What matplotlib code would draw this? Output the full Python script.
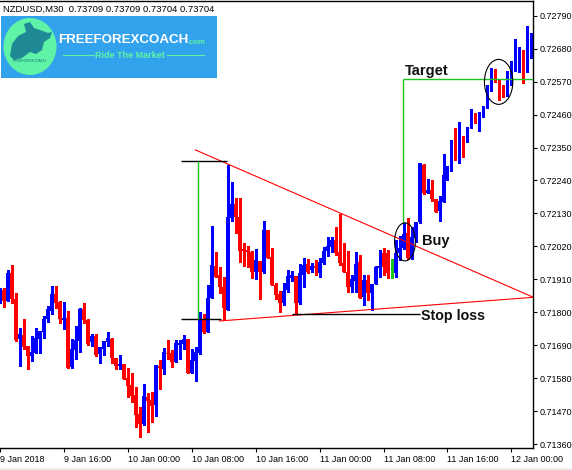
import matplotlib
matplotlib.use("Agg")
import matplotlib.pyplot as plt
from matplotlib.patches import Ellipse, Rectangle, Polygon

W, H = 572, 470

# NZDUSD M30 candles, 9 Jan 08:00 .. 12 Jan 02:30
opens = [0.71835, 0.71875, 0.71838, 0.71930, 0.71846, 0.71711, 0.71724, 0.71687, 0.71655, 0.71665,
         0.71711, 0.71735, 0.71777, 0.71805, 0.71861, 0.71834, 0.71774, 0.71782, 0.71617, 0.71674,
         0.71705, 0.71811, 0.71774, 0.71702, 0.71721, 0.71662, 0.71677, 0.71702, 0.71711, 0.71646,
         0.71620, 0.71627, 0.71579, 0.71557, 0.71524, 0.71459, 0.71427, 0.71517, 0.71507, 0.71490,
         0.71620, 0.71610, 0.71665, 0.71665, 0.71634, 0.71692, 0.71694, 0.71711, 0.71598, 0.71638,
         0.71665, 0.71776, 0.71734, 0.71849, 0.71954, 0.71924, 0.71885, 0.71807, 0.72116, 0.72161,
         0.72117, 0.72010, 0.72008, 0.72002, 0.71935, 0.71971, 0.71933, 0.72075, 0.71985, 0.71891,
         0.71861, 0.71832, 0.71874, 0.71913, 0.71921, 0.71830, 0.71924, 0.71960, 0.71941, 0.71954,
         0.71930, 0.71963, 0.72004, 0.72019, 0.72041, 0.72002, 0.71965, 0.71935, 0.71885, 0.71905,
         0.71967, 0.71850, 0.71908, 0.71864, 0.71894, 0.71949, 0.71999, 0.71997, 0.71947, 0.71930,
         0.71997, 0.72013, 0.72064, 0.71980, 0.72047, 0.72102, 0.72292, 0.72199, 0.72208, 0.72177,
         0.72139, 0.72169, 0.72253, 0.72275, 0.72372, 0.72308, 0.72386, 0.72375, 0.72417, 0.72459,
         0.72436, 0.72453, 0.72484, 0.72544, 0.72609, 0.72575, 0.72525, 0.72522, 0.72559, 0.72625,
         0.72653, 0.72676, 0.72603, 0.72690]
highs = [0.71881, 0.71880, 0.71941, 0.71958, 0.71863, 0.71748, 0.71777, 0.71689, 0.71721, 0.71746,
         0.71738, 0.71787, 0.71821, 0.71888, 0.71888, 0.71836, 0.71835, 0.71804, 0.71711, 0.71755,
         0.71813, 0.71832, 0.71777, 0.71727, 0.71727, 0.71684, 0.71705, 0.71733, 0.71713, 0.71647,
         0.71657, 0.71629, 0.71613, 0.71596, 0.71551, 0.71485, 0.71560, 0.71529, 0.71535, 0.71625,
         0.71640, 0.71680, 0.71706, 0.71674, 0.71706, 0.71706, 0.71723, 0.71712, 0.71677, 0.71683,
         0.71800, 0.71794, 0.71891, 0.72088, 0.72000, 0.71950, 0.71919, 0.72293, 0.72234, 0.72182,
         0.72180, 0.72030, 0.72021, 0.72003, 0.72010, 0.71972, 0.72106, 0.72076, 0.72015, 0.71899,
         0.71871, 0.71899, 0.71941, 0.71939, 0.71922, 0.71961, 0.71980, 0.71977, 0.71965, 0.71974,
         0.71981, 0.72019, 0.72052, 0.72052, 0.72084, 0.72128, 0.72031, 0.72004, 0.71924, 0.72002,
         0.71991, 0.71924, 0.71924, 0.71895, 0.71954, 0.72008, 0.72014, 0.72008, 0.71977, 0.72041,
         0.72056, 0.72099, 0.72114, 0.72086, 0.72103, 0.72298, 0.72295, 0.72245, 0.72242, 0.72178,
         0.72189, 0.72328, 0.72289, 0.72374, 0.72416, 0.72436, 0.72387, 0.72420, 0.72478, 0.72464,
         0.72470, 0.72490, 0.72559, 0.72614, 0.72612, 0.72576, 0.72559, 0.72606, 0.72639, 0.72711,
         0.72685, 0.72677, 0.72756, 0.72733]
lows = [0.71831, 0.71818, 0.71836, 0.71830, 0.71704, 0.71621, 0.71676, 0.71610, 0.71637, 0.71663,
        0.71665, 0.71713, 0.71768, 0.71794, 0.71813, 0.71763, 0.71744, 0.71613, 0.71614, 0.71644,
        0.71668, 0.71763, 0.71692, 0.71688, 0.71655, 0.71631, 0.71657, 0.71688, 0.71631, 0.71610,
        0.71610, 0.71576, 0.71518, 0.71501, 0.71418, 0.71384, 0.71425, 0.71401, 0.71434, 0.71454,
        0.71544, 0.71595, 0.71643, 0.71618, 0.71633, 0.71643, 0.71677, 0.71597, 0.71597, 0.71571,
        0.71661, 0.71731, 0.71733, 0.71848, 0.71918, 0.71863, 0.71774, 0.71806, 0.72106, 0.72066,
        0.71969, 0.71955, 0.71952, 0.71915, 0.71911, 0.71843, 0.71932, 0.71981, 0.71890, 0.71843,
        0.71802, 0.71824, 0.71867, 0.71905, 0.71794, 0.71829, 0.71885, 0.71932, 0.71935, 0.71924,
        0.71918, 0.71961, 0.71988, 0.72002, 0.71991, 0.71958, 0.71934, 0.71869, 0.71869, 0.71869,
        0.71848, 0.71824, 0.71841, 0.71807, 0.71893, 0.71919, 0.71924, 0.71914, 0.71913, 0.71917,
        0.71974, 0.72010, 0.71979, 0.71979, 0.72035, 0.72098, 0.72195, 0.72198, 0.72172, 0.72134,
        0.72106, 0.72168, 0.72241, 0.72273, 0.72307, 0.72297, 0.72319, 0.72369, 0.72414, 0.72432,
        0.72406, 0.72452, 0.72481, 0.72540, 0.72568, 0.72509, 0.72519, 0.72521, 0.72558, 0.72606,
        0.72603, 0.72566, 0.72602, 0.72648]
closes = [0.71874, 0.71838, 0.71930, 0.71846, 0.71707, 0.71727, 0.71685, 0.71655, 0.71666, 0.71713,
          0.71736, 0.71777, 0.71811, 0.71861, 0.71832, 0.71777, 0.71782, 0.71615, 0.71677, 0.71707,
          0.71811, 0.71774, 0.71694, 0.71721, 0.71657, 0.71683, 0.71704, 0.71713, 0.71646, 0.71621,
          0.71627, 0.71577, 0.71555, 0.71520, 0.71457, 0.71427, 0.71520, 0.71505, 0.71487, 0.71624,
          0.71615, 0.71667, 0.71660, 0.71634, 0.71697, 0.71697, 0.71711, 0.71598, 0.71640, 0.71667,
          0.71776, 0.71734, 0.71847, 0.71958, 0.71919, 0.71883, 0.71815, 0.72117, 0.72161, 0.72119,
          0.72005, 0.72005, 0.72000, 0.71935, 0.71974, 0.71933, 0.72075, 0.71982, 0.71891, 0.71858,
          0.71830, 0.71871, 0.71921, 0.71924, 0.71830, 0.71930, 0.71958, 0.71935, 0.71954, 0.71949,
          0.71969, 0.72004, 0.72021, 0.72041, 0.71999, 0.71963, 0.71935, 0.71885, 0.71910, 0.71961,
          0.71849, 0.71908, 0.71863, 0.71894, 0.71952, 0.71954, 0.71952, 0.71930, 0.71947, 0.71997,
          0.72013, 0.72060, 0.71980, 0.72050, 0.72102, 0.72297, 0.72199, 0.72208, 0.72177, 0.72136,
          0.72171, 0.72258, 0.72281, 0.72372, 0.72308, 0.72386, 0.72377, 0.72419, 0.72459, 0.72433,
          0.72455, 0.72489, 0.72551, 0.72609, 0.72570, 0.72522, 0.72520, 0.72562, 0.72629, 0.72651,
          0.72676, 0.72603, 0.72692, 0.72695]

time_ticks = [0, 16, 32, 48, 64, 80, 96, 112, 128]
time_labels = ["9 Jan 2018", "9 Jan 16:00", "10 Jan 00:00", "10 Jan 08:00", "10 Jan 16:00",
               "11 Jan 00:00", "11 Jan 08:00", "11 Jan 16:00", "12 Jan 00:00"]
price_ticks = [0.71360, 0.71470, 0.71580, 0.71690, 0.71800, 0.71910, 0.72020,
               0.72130, 0.72240, 0.72350, 0.72460, 0.72570, 0.72680, 0.72790]

# pattern drawn on the chart
upper_line = [(48.9, 0.72342), (133.5, 0.71850)]
lower_line = [(54.9, 0.71771), (133.5, 0.71850)]
range_top = 0.72305
range_bottom = 0.71776
stop_loss = 0.71793
target = 0.72578
buy_level = 0.72099

FONT = "Liberation Sans"
GREEN = "#1ec31e"
MINT = "#5ef3a6"


def px(x, y):
    return x / W, 1 - y / H


fig = plt.figure(figsize=(W / 100, H / 100), dpi=100)
fig.patch.set_facecolor("white")
ax = fig.add_axes([0, (H - 447.7) / H, 533 / W, 446.7 / H])
ax.set_xlim(0.175, 133.4)
ax.set_ylim(0.71348, 0.72839)

idx = list(range(len(opens)))
cols = []
for o, c in zip(opens, closes):
    cols.append("#0000ff" if c > o else ("#ff0000" if c < o else GREEN))

ax.vlines(idx, lows, highs, colors=cols, linewidth=1.0, antialiased=False, zorder=2)
bottoms = [min(o, c) for o, c in zip(opens, closes)]
heights = [abs(c - o) for o, c in zip(opens, closes)]
ax.bar(idx, heights, bottom=bottoms, width=0.78, color=cols, linewidth=0,
       antialiased=False, zorder=3)
for i, (o, c) in enumerate(zip(opens, closes)):
    if o == c:
        ax.hlines(o, i - 0.4, i + 0.4, colors=GREEN, linewidth=1.0, zorder=3)

# triangle
ax.plot(*zip(*upper_line), color="red", lw=0.8, zorder=4)
ax.plot(*zip(*lower_line), color="red", lw=0.8, zorder=4)

# measured height of the pattern
ax.hlines([range_top], 45.4, 56.9, colors="black", lw=1.0, zorder=5)
ax.hlines([range_bottom], 45.4, 55.2, colors="black", lw=1.0, zorder=5)
ax.vlines([49.5], range_bottom, range_top, colors=GREEN, lw=1.0, zorder=5)

# stop loss
ax.hlines([stop_loss], 73.1, 105.2, colors="black", lw=1.0, zorder=5)
ax.text(105.3, stop_loss - 0.00005, "Stop loss", fontsize=10.3, fontweight="bold",
        family=FONT, va="center", ha="left", color="#111111", zorder=6)

# target
ax.hlines([target], 100.75, 133.4, colors=GREEN, lw=1.0, zorder=5)
ax.vlines([100.75], buy_level, target, colors=GREEN, lw=1.0, zorder=5)
ax.text(101.4, 0.72605, "Target", fontsize=10.5, fontweight="bold", family=FONT,
        va="center", ha="left", color="#111111", zorder=6)
ax.text(105.7, 0.72038, "Buy", fontsize=10.5, fontweight="bold", family=FONT,
        va="center", ha="left", color="#111111", zorder=6)

ax.add_patch(Ellipse((101.35, 0.72035), 5.2, 0.00127, fill=False, ec="black", lw=0.8, zorder=6))
ax.add_patch(Ellipse((124.8, 0.72569), 7.1, 0.0015, fill=False, ec="black", lw=0.8, zorder=6))

# axes styling
ax.spines["left"].set_visible(False)
for s in ["top", "right", "bottom"]:
    ax.spines[s].set_linewidth(1.0)
    ax.spines[s].set_color("black")
ax.yaxis.tick_right()
ax.set_yticks(price_ticks)
ax.set_yticklabels([f"{p:.5f}" for p in price_ticks], family=FONT, fontsize=6.5)
ax.tick_params(axis="y", length=3, width=0.8, pad=2)
ax.set_xticks(time_ticks)
ax.set_xticklabels(time_labels, family=FONT, fontsize=6.5, ha="left")
ax.tick_params(axis="x", length=3, width=0.8, pad=2)

# header
fig.text(*px(3, 9), "NZDUSD,M30  0.73709 0.73709 0.73704 0.73704", family=FONT,
         fontsize=6.8, va="center", ha="left")

# logo
fig.patches.append(Rectangle(px(1, 78), 216 / W, 62 / H, transform=fig.transFigure,
                             facecolor="#33a2ec", edgecolor="none", zorder=10))
fig.patches.append(Ellipse(px(30, 46.5), 53 / W, 57 / H, transform=fig.transFigure,
                           facecolor=MINT, edgecolor="none", zorder=11))
bull = [(10, 56), (12, 44), (18, 36), (26, 32), (24, 24), (30, 22), (34, 28), (40, 30),
        (48, 33), (52, 32), (50, 38), (44, 42), (42, 50), (36, 54), (30, 52), (22, 58), (14, 60)]
fig.patches.append(Polygon([px(x, y) for x, y in bull], closed=True, transform=fig.transFigure,
                           facecolor="#1f8a95", edgecolor="none", zorder=12))
fig.text(*px(30, 61), "FREEFOREXCOACH", family=FONT, fontsize=2.5, color="#1f6f7a",
         ha="center", va="center", zorder=13)
fig.text(*px(58, 40), "FREEFOREXCOACH", family=FONT, fontsize=9.6, fontweight="bold",
         color="white", ha="left", va="center", zorder=13)
fig.text(*px(188, 42), ".com", family=FONT, fontsize=5.5, fontweight="bold",
         color=MINT, ha="left", va="center", zorder=13)
fig.text(*px(130, 55), "Ride The Market", family=FONT, fontsize=6.5, fontweight="bold",
         color=MINT, ha="center", va="center", zorder=13)
for x0, x1 in [(63, 94), (167, 204)]:
    fig.lines.append(plt.Line2D([x0 / W, x1 / W], [1 - 54.7 / H] * 2, transform=fig.transFigure,
                                color=MINT, lw=0.8, zorder=13))

# grey strip at the very bottom
fig.patches.append(Rectangle((0, 0), 1, 2.5 / H, transform=fig.transFigure,
                             facecolor="#ececec", edgecolor="none"))

fig.savefig("out.png", dpi=100)
